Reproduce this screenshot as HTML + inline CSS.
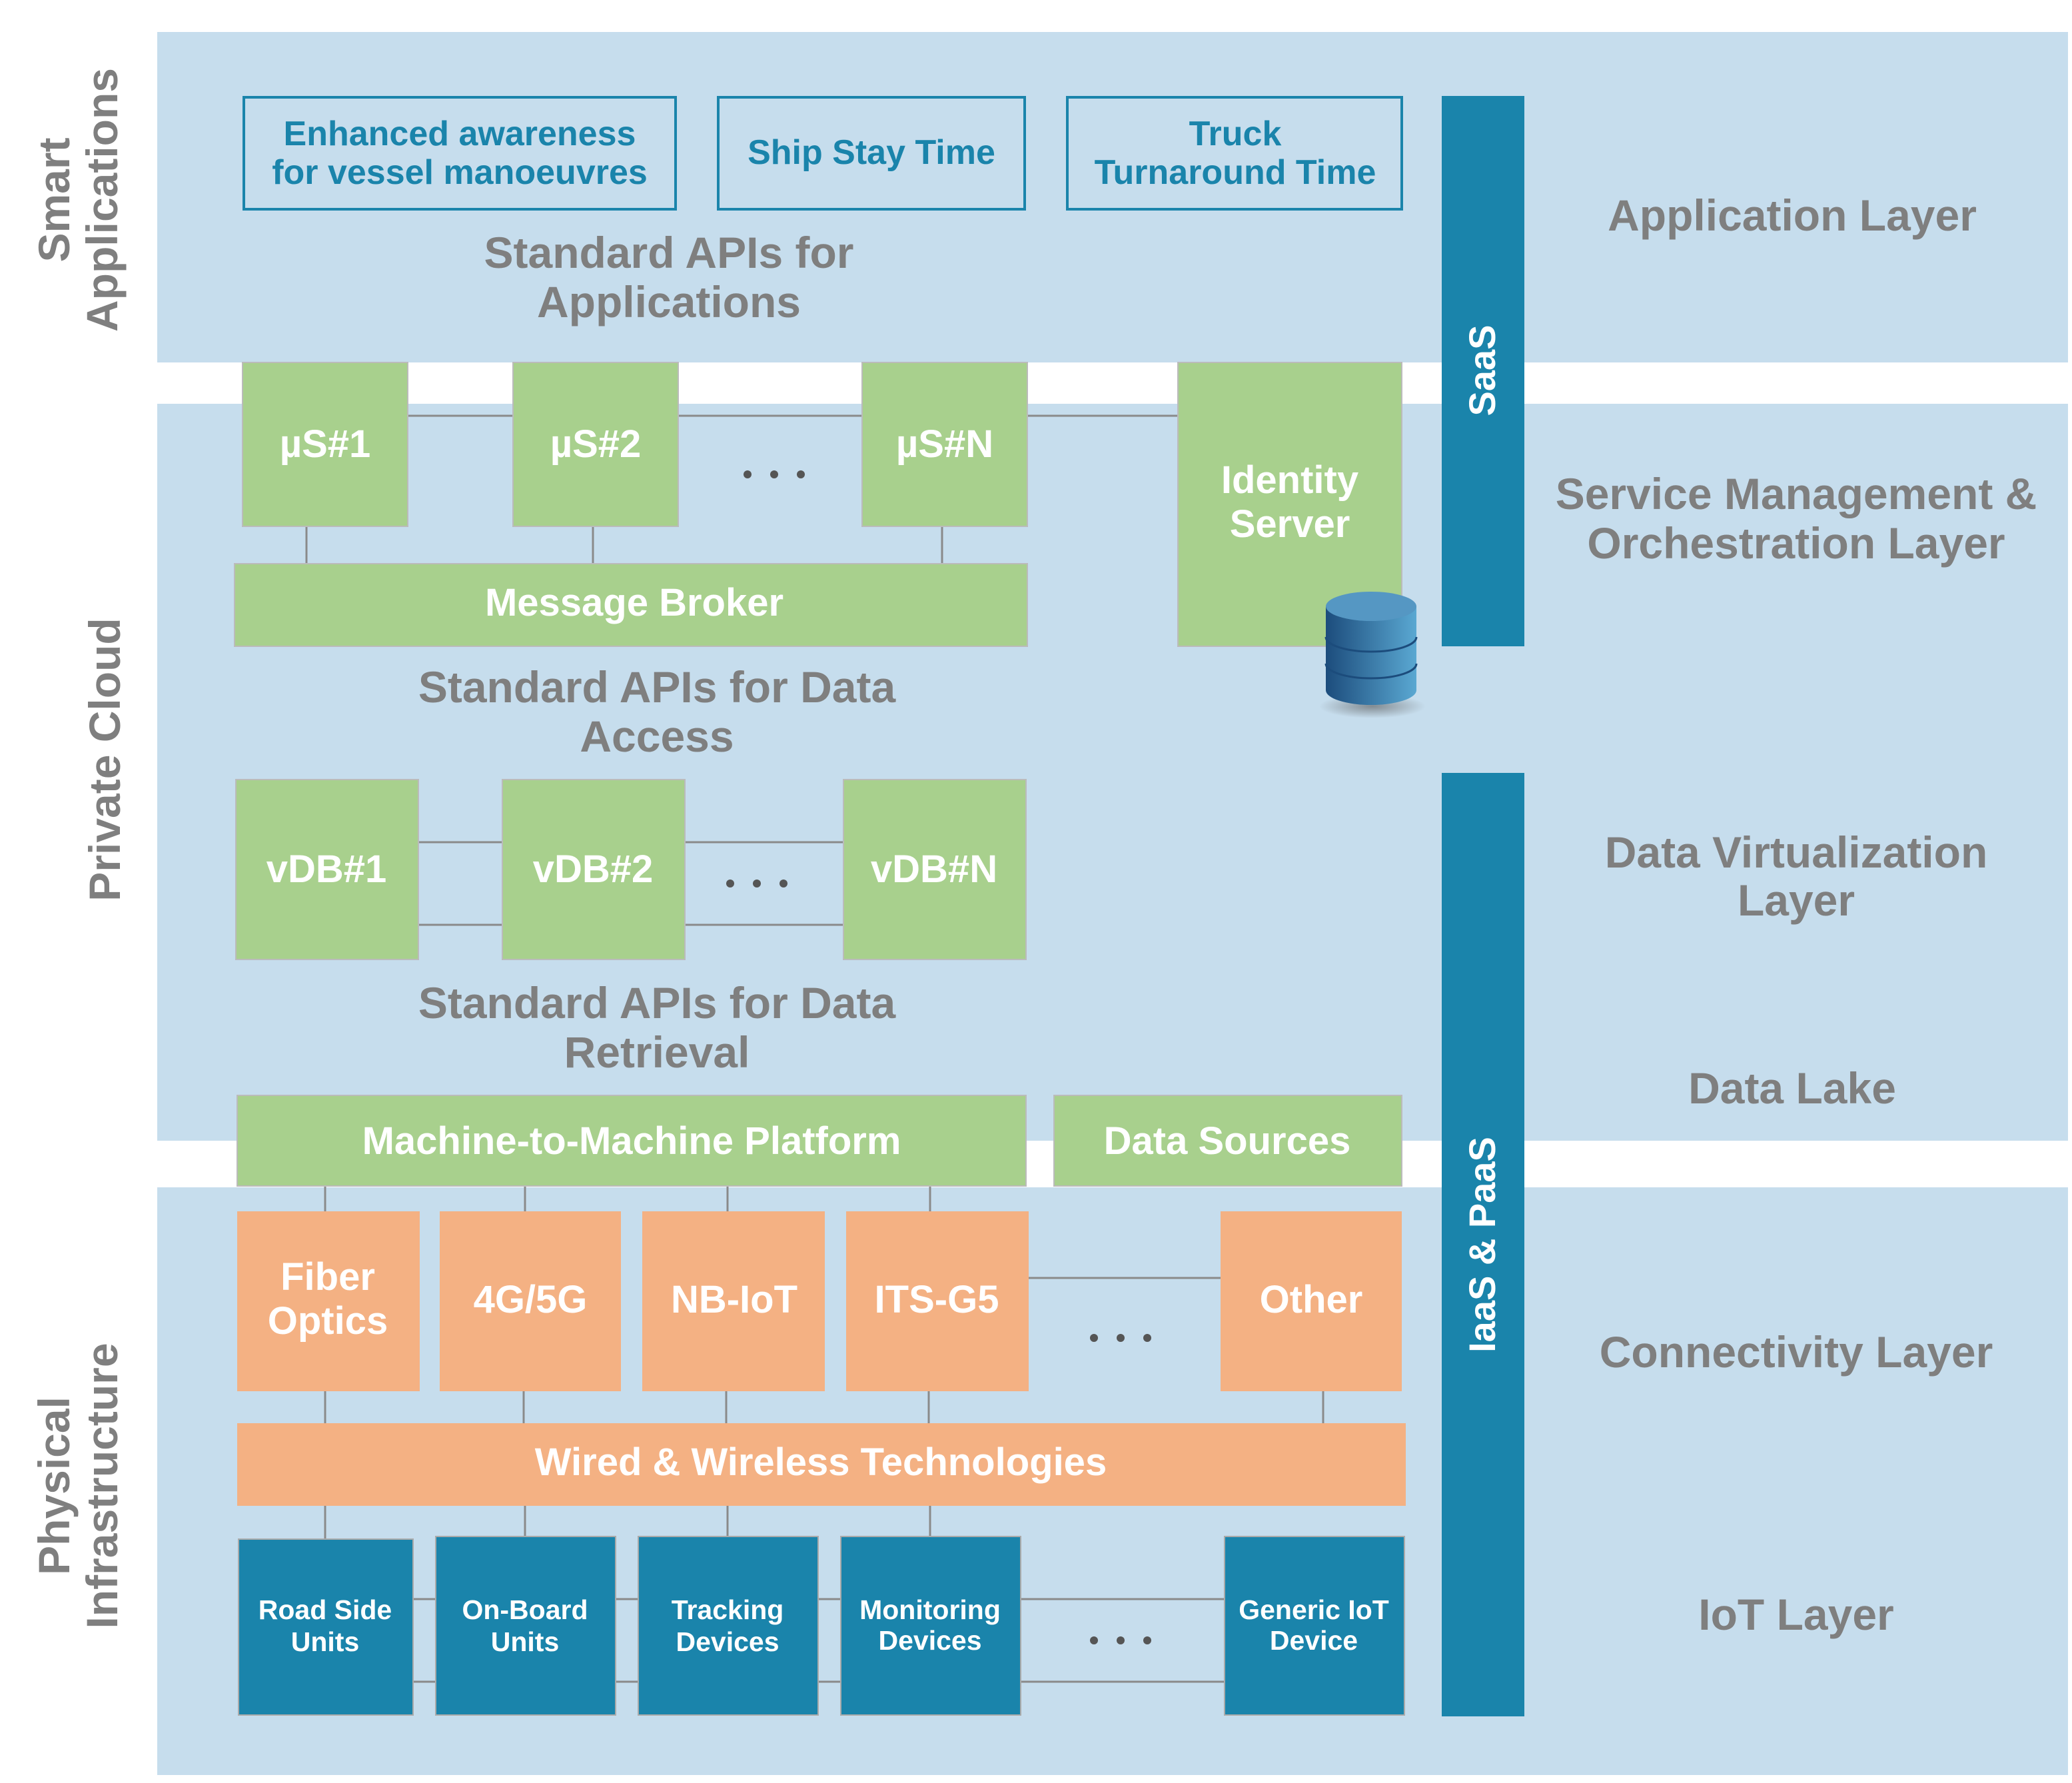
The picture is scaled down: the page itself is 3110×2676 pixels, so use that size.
<!DOCTYPE html>
<html><head><meta charset="utf-8"><style>
html,body{margin:0;padding:0;background:#fff}
svg{display:block}
text{font-family:"Liberation Sans",sans-serif;font-weight:bold}
.g{fill:#7f7f7f;font-size:33px}
.w{fill:#fff}
.t{fill:#1a84ab;font-size:26px}
</style></head><body>
<svg width="3110" height="2676" viewBox="0 0 1555 1338" xmlns="http://www.w3.org/2000/svg">
<defs>
<linearGradient id="cyl" x1="0" x2="1"><stop offset="0" stop-color="#1c4c7c"/><stop offset="1" stop-color="#5aa8d2"/></linearGradient>
<radialGradient id="sh"><stop offset="0" stop-color="#555" stop-opacity=".6"/><stop offset="1" stop-color="#555" stop-opacity="0"/></radialGradient>
</defs>
<rect width="1555" height="1338" fill="#fff"/>
<rect x="118" y="24" width="1434" height="248" fill="#c6dded"/>
<rect x="118" y="303" width="1434" height="553" fill="#c6dded"/>
<rect x="118" y="891" width="1434" height="441" fill="#c6dded"/>
<text class="g" text-anchor="middle" transform="translate(52,150) rotate(-90)">Smart</text>
<text class="g" text-anchor="middle" transform="translate(88,150) rotate(-90)">Applications</text>
<text class="g" text-anchor="middle" transform="translate(90,570) rotate(-90)">Private Cloud</text>
<text class="g" text-anchor="middle" transform="translate(52,1115) rotate(-90)">Physical</text>
<text class="g" text-anchor="middle" transform="translate(88,1115) rotate(-90)">Infrastructure</text>
<g fill="none" stroke="#1a84ab" stroke-width="2">
<rect x="183" y="73" width="324" height="84"/><rect x="539" y="73" width="230" height="84"/><rect x="801" y="73" width="251" height="84"/></g>
<text class="t" text-anchor="middle" x="345" y="109">Enhanced awareness</text>
<text class="t" text-anchor="middle" x="345" y="138">for vessel manoeuvres</text>
<text class="t" text-anchor="middle" x="654" y="123">Ship Stay Time</text>
<text class="t" text-anchor="middle" x="927" y="109">Truck</text>
<text class="t" text-anchor="middle" x="927" y="138">Turnaround Time</text>
<text class="g" text-anchor="middle" x="502" y="201">Standard APIs for</text>
<text class="g" text-anchor="middle" x="502" y="238">Applications</text>
<rect x="1082" y="72" width="62" height="413" fill="#1a84ab"/>
<rect x="1082" y="580" width="62" height="708" fill="#1a84ab"/>
<text class="w" font-size="28" text-anchor="middle" transform="translate(1122,278) rotate(-90)">SaaS</text>
<text class="w" font-size="28" text-anchor="middle" transform="translate(1122,934) rotate(-90)">IaaS &amp; PaaS</text>
<text class="g" text-anchor="middle" x="1345" y="173">Application Layer</text>
<text class="g" text-anchor="middle" x="1348" y="382">Service Management &amp;</text>
<text class="g" text-anchor="middle" x="1348" y="419">Orchestration Layer</text>
<text class="g" text-anchor="middle" x="1348" y="651">Data Virtualization</text>
<text class="g" text-anchor="middle" x="1348" y="687">Layer</text>
<text class="g" text-anchor="middle" x="1345" y="828">Data Lake</text>
<text class="g" text-anchor="middle" x="1348" y="1026">Connectivity Layer</text>
<text class="g" text-anchor="middle" x="1348" y="1223">IoT Layer</text>
<g stroke="#8a8a8a" stroke-width="1.5">
<line x1="306" y1="312" x2="884" y2="312"/>
<line x1="230" y1="395" x2="230" y2="423"/><line x1="445" y1="395" x2="445" y2="423"/><line x1="707" y1="395" x2="707" y2="423"/>
<line x1="314" y1="632" x2="633" y2="632"/><line x1="314" y1="694" x2="633" y2="694"/>
<line x1="244" y1="890" x2="244" y2="909"/><line x1="394" y1="890" x2="394" y2="909"/><line x1="546" y1="890" x2="546" y2="909"/><line x1="698" y1="890" x2="698" y2="909"/>
<line x1="772" y1="959" x2="916" y2="959"/>
<line x1="244" y1="1044" x2="244" y2="1068"/><line x1="393" y1="1044" x2="393" y2="1068"/><line x1="545" y1="1044" x2="545" y2="1068"/><line x1="697" y1="1044" x2="697" y2="1068"/><line x1="993" y1="1044" x2="993" y2="1068"/>
<line x1="244" y1="1130" x2="244" y2="1155"/><line x1="394" y1="1130" x2="394" y2="1155"/><line x1="546" y1="1130" x2="546" y2="1155"/><line x1="698" y1="1130" x2="698" y2="1155"/>
<line x1="310" y1="1200" x2="919" y2="1200"/><line x1="310" y1="1262" x2="919" y2="1262"/>
</g>
<g fill="#a8d08d" stroke="#bbb" stroke-width="1">
<rect x="182" y="272" width="124" height="123"/><rect x="385" y="272" width="124" height="123"/><rect x="647" y="272" width="124" height="123"/>
<rect x="176" y="423" width="595" height="62"/><rect x="884" y="272" width="168" height="213"/>
<rect x="177" y="585" width="137" height="135"/><rect x="377" y="585" width="137" height="135"/><rect x="633" y="585" width="137" height="135"/>
<rect x="178" y="822" width="592" height="68"/><rect x="791" y="822" width="261" height="68"/>
</g>
<g class="w" font-size="29" text-anchor="middle">
<text class="w" x="244" y="343">µS#1</text><text class="w" x="447" y="343">µS#2</text><text class="w" x="709" y="343">µS#N</text>
<text class="w" x="476" y="462">Message Broker</text>
<text class="w" x="968" y="370">Identity</text><text class="w" x="968" y="403">Server</text>
<text class="w" x="245" y="662">vDB#1</text><text class="w" x="445" y="662">vDB#2</text><text class="w" x="701" y="662">vDB#N</text>
<text class="w" x="474" y="866">Machine-to-Machine Platform</text><text class="w" x="921" y="866">Data Sources</text>
</g>
<g fill="#555"><circle cx="561" cy="356" r="3"/><circle cx="581" cy="356" r="3"/><circle cx="601" cy="356" r="3"/>
<circle cx="548" cy="663" r="3"/><circle cx="568" cy="663" r="3"/><circle cx="588" cy="663" r="3"/>
<circle cx="821" cy="1004" r="3"/><circle cx="841" cy="1004" r="3"/><circle cx="861" cy="1004" r="3"/>
<circle cx="821" cy="1231" r="3"/><circle cx="841" cy="1231" r="3"/><circle cx="861" cy="1231" r="3"/></g>
<text class="g" text-anchor="middle" x="493" y="527">Standard APIs for Data</text>
<text class="g" text-anchor="middle" x="493" y="564">Access</text>
<text class="g" text-anchor="middle" x="493" y="764">Standard APIs for Data</text>
<text class="g" text-anchor="middle" x="493" y="801">Retrieval</text>
<ellipse cx="1030" cy="530" rx="40" ry="9" fill="url(#sh)"/>
<path d="M995,455 L995,518 A34,11 0 0 0 1063,518 L1063,455 Z" fill="url(#cyl)"/>
<ellipse cx="1029" cy="455" rx="34" ry="11" fill="#5597c3"/>
<path d="M995,478 A34,11 0 0 0 1063,478 M995,498 A34,11 0 0 0 1063,498" fill="none" stroke="#1c4c7c" stroke-width="1.5"/>
<g fill="#f4b183">
<rect x="178" y="909" width="137" height="135"/><rect x="330" y="909" width="136" height="135"/><rect x="482" y="909" width="137" height="135"/><rect x="635" y="909" width="137" height="135"/><rect x="916" y="909" width="136" height="135"/>
<rect x="178" y="1068" width="877" height="62"/></g>
<g class="w" font-size="29" text-anchor="middle">
<text class="w" x="246" y="968">Fiber</text><text class="w" x="246" y="1001">Optics</text>
<text class="w" x="398" y="985">4G/5G</text><text class="w" x="551" y="985">NB-IoT</text><text class="w" x="703" y="985">ITS-G5</text><text class="w" x="984" y="985">Other</text>
<text class="w" x="616" y="1107">Wired &amp; Wireless Technologies</text>
</g>
<g fill="#1a84ab" stroke="#aaa" stroke-width="1">
<rect x="179" y="1155" width="131" height="132"/><rect x="327" y="1153" width="135" height="134"/><rect x="479" y="1153" width="135" height="134"/><rect x="631" y="1153" width="135" height="134"/><rect x="919" y="1153" width="135" height="134"/></g>
<g class="w" font-size="20.5" text-anchor="middle">
<text class="w" x="244" y="1215">Road Side</text><text class="w" x="244" y="1239">Units</text>
<text class="w" x="394" y="1215">On-Board</text><text class="w" x="394" y="1239">Units</text>
<text class="w" x="546" y="1215">Tracking</text><text class="w" x="546" y="1239">Devices</text>
<text class="w" x="698" y="1215">Monitoring</text><text class="w" x="698" y="1238">Devices</text>
<text class="w" x="986" y="1215">Generic IoT</text><text class="w" x="986" y="1238">Device</text>
</g>
</svg>
</body></html>
